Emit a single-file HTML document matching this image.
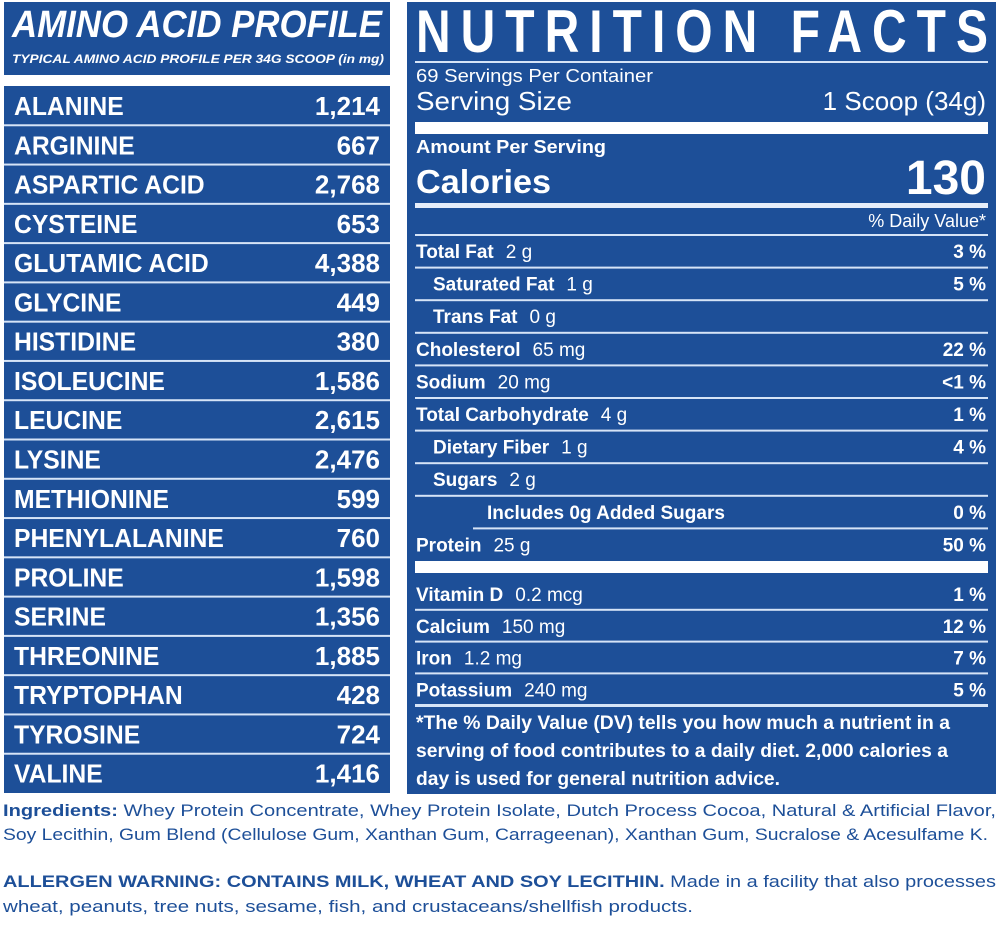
<!DOCTYPE html>
<html><head><meta charset="utf-8"><style>
html,body{margin:0;padding:0;background:#fff;}
svg{display:block;font-family:"Liberation Sans",sans-serif;font-weight:bold;}
</style></head><body>
<svg id="s" width="1000" height="933" viewBox="0 0 1000 933" xmlns="http://www.w3.org/2000/svg">
<rect x="0" y="0" width="1000" height="933" fill="#fff"/>
<g>
<rect x="4" y="2" width="386" height="73" fill="#1d4f98"/>
<text x="12" y="37" font-size="38" font-style="italic" fill="#fff" textLength="370" lengthAdjust="spacingAndGlyphs">AMINO ACID PROFILE</text>
<text x="12" y="63" font-size="12" font-style="italic" fill="#fff" textLength="372" lengthAdjust="spacingAndGlyphs">TYPICAL AMINO ACID PROFILE PER 34G SCOOP (in mg)</text>
</g>
<rect x="4" y="86" width="386" height="707" fill="#1d4f98"/>
<g id="amino"></g>
<g>
<rect x="407" y="2" width="589" height="792" fill="#1d4f98"/>
<g transform="translate(416,0) scale(0.8,1)">
<text x="0" y="52" font-size="60" fill="#fff" textLength="715" lengthAdjust="spacing">NUTRITION FACTS</text>
</g>
<rect x="415" y="61" width="573" height="2" fill="#d6e4f7"/>
<text x="416" y="82" font-size="18" fill="#fff" font-weight="normal" textLength="237" lengthAdjust="spacingAndGlyphs">69 Servings Per Container</text>
<text x="416" y="110" font-size="26" fill="#fff" font-weight="normal" textLength="156" lengthAdjust="spacingAndGlyphs">Serving Size</text>
<text x="986" y="110" font-size="26" fill="#fff" font-weight="normal" text-anchor="end">1 Scoop (34g)</text>
<rect x="415" y="122" width="573" height="12" fill="#fff"/>
<text x="416" y="153" font-size="18" fill="#fff" textLength="190" lengthAdjust="spacingAndGlyphs">Amount Per Serving</text>
<text x="416" y="193" font-size="33" fill="#fff" textLength="135" lengthAdjust="spacingAndGlyphs">Calories</text>
<text x="986" y="194" font-size="48" fill="#fff" text-anchor="end">130</text>
<rect x="415" y="203" width="573" height="5" fill="#e6eefa"/>
<text x="986" y="227" font-size="18" fill="#fff" font-weight="normal" text-anchor="end">% Daily Value*</text>
<rect x="415" y="561" width="573" height="12" fill="#fff"/>
<g id="nut"></g>
<text x="416" y="729" font-size="19" fill="#fff" textLength="534" lengthAdjust="spacingAndGlyphs">*The % Daily Value (DV) tells you how much a nutrient in a</text>
<text x="416" y="757" font-size="19" fill="#fff" textLength="532" lengthAdjust="spacingAndGlyphs">serving of food contributes to a daily diet. 2,000 calories a</text>
<text x="416" y="785" font-size="19" fill="#fff" textLength="364" lengthAdjust="spacingAndGlyphs">day is used for general nutrition advice.</text>
</g>
<g fill="#1d4f98" font-size="17">
<text x="3" y="816" textLength="993" lengthAdjust="spacingAndGlyphs"><tspan>Ingredients:</tspan><tspan font-weight="normal"> Whey Protein Concentrate, Whey Protein Isolate, Dutch Process Cocoa, Natural &amp; Artificial Flavor,</tspan></text>
<text x="3" y="840" font-weight="normal" textLength="985" lengthAdjust="spacingAndGlyphs">Soy Lecithin, Gum Blend (Cellulose Gum, Xanthan Gum, Carrageenan), Xanthan Gum, Sucralose &amp; Acesulfame K.</text>
</g>
<g fill="#1d4f98" font-size="17">
<text x="3" y="887" textLength="993" lengthAdjust="spacingAndGlyphs"><tspan>ALLERGEN WARNING: CONTAINS MILK, WHEAT AND SOY LECITHIN.</tspan><tspan font-weight="normal"> Made in a facility that also processes</tspan></text>
<text x="3" y="912" font-weight="normal" textLength="690" lengthAdjust="spacingAndGlyphs">wheat, peanuts, tree nuts, sesame, fish, and crustaceans/shellfish products.</text>
</g>
</svg>
<script>
const aminoNames=["ALANINE","ARGININE","ASPARTIC ACID","CYSTEINE","GLUTAMIC ACID","GLYCINE","HISTIDINE","ISOLEUCINE","LEUCINE","LYSINE","METHIONINE","PHENYLALANINE","PROLINE","SERINE","THREONINE","TRYPTOPHAN","TYROSINE","VALINE"];
const aminoValues=["1,214","667","2,768","653","4,388","449","380","1,586","2,615","2,476","599","760","1,598","1,356","1,885","428","724","1,416"];
const nutNames=["Total Fat","Saturated Fat","Trans Fat","Cholesterol","Sodium","Total Carbohydrate","Dietary Fiber","Sugars","Includes 0g Added Sugars","Protein"];
const nutAmounts=["2 g","1 g","0 g","65 mg","20 mg","4 g","1 g","2 g","","25 g"];
const nutDV=["3 %","5 %","","22 %","<1 %","1 %","4 %","","0 %","50 %"];
const nutIndent=[0,1,1,0,0,0,1,1,2,0];
const vitNames=["Vitamin D","Calcium","Iron","Potassium"];
const vitAmounts=["0.2 mcg","150 mg","1.2 mg","240 mg"];
const vitDV=["1 %","12 %","7 %","5 %"];
const NS="http://www.w3.org/2000/svg";
function mk(tag,attrs,parent){const e=document.createElementNS(NS,tag);for(const k in attrs)e.setAttribute(k,attrs[k]);parent.appendChild(e);return e;}
const ag=document.getElementById('amino');
const rowH=707/aminoNames.length;
aminoNames.forEach((n,i)=>{
  const y=86+i*rowH;
  if(i>0){const l=mk('rect',{x:4,y:y-1,width:386,height:2,fill:'#d6e4f7'},ag);
    
    }
  const g=mk('g',{transform:'translate(14,'+(y+29)+') scale(0.95,1)'},ag);
  const t=mk('text',{x:0,y:0,'font-size':26,fill:'#fff'},g);
  
  
  t.textContent=n;
  const v=mk('text',{x:380,y:y+29,'font-size':26,fill:'#fff','text-anchor':'end'},ag);
  
  
  v.textContent=aminoValues[i];
});
const ng=document.getElementById('nut');
function nutRow(name,amt,dv,indent,y){
  const xs=[416,433,487][indent];
  const t=mk('text',{x:xs,y:y+7,'font-size':19,fill:'#fff'},ng);
  
  
  const a=mk('tspan',{},t);a.textContent=name;
  if(amt){const b=mk('tspan',{dx:12,'font-weight':'normal'},t);b.textContent=amt;}
  if(dv){const v=mk('text',{x:986,y:y+7,'font-size':19,fill:'#fff','text-anchor':'end'},ng);
    
    
    v.textContent=dv;}
}
const nh=32.6;
nutNames.forEach((n,i)=>{
  const y=251+i*nh;
  const lx=(i===9)?473:415;
  const l=mk('rect',{x:lx,y:y-17,width:988-lx,height:2,fill:'#d6e4f7'},ng);
  
  
  nutRow(n,nutAmounts[i],nutDV[i],nutIndent[i],y);
});
vitNames.forEach((n,i)=>{
  const y=594+i*31.8;
  if(i>0){const l=mk('rect',{x:415,y:y-17,width:573,height:2,fill:'#d6e4f7'},ng);
    
    }
  nutRow(n,vitAmounts[i],vitDV[i],0,y);
});
const fl=mk('rect',{x:415,y:704,width:573,height:3,fill:'#d6e4f7'},ng);


</script>
</body></html>
